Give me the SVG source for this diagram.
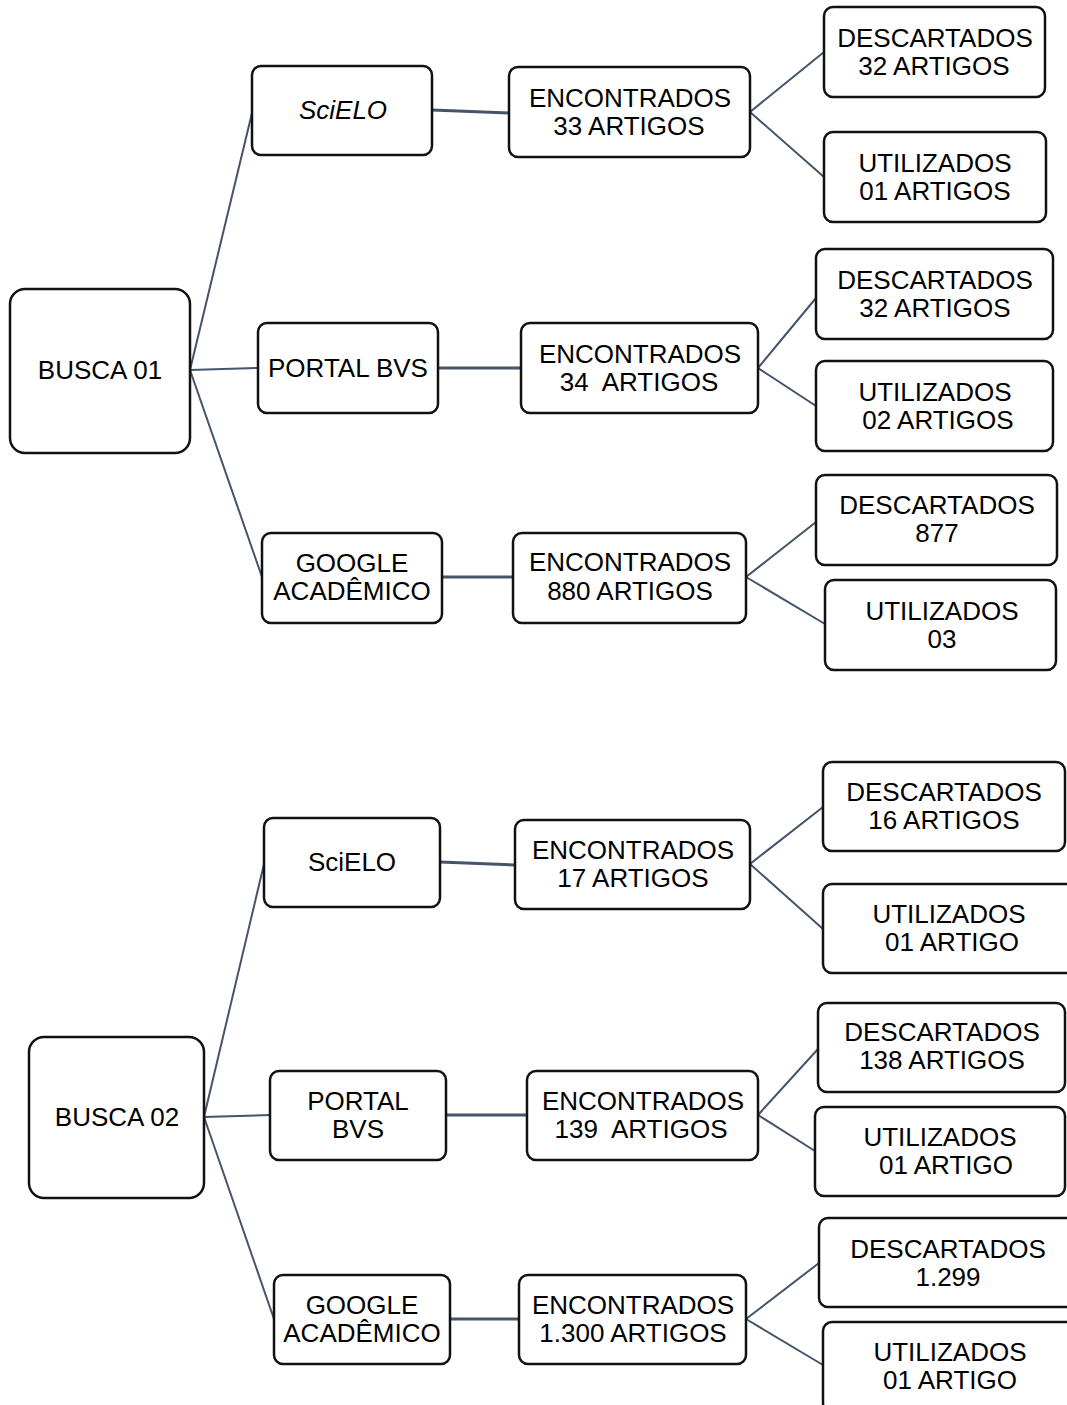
<svg xmlns="http://www.w3.org/2000/svg" width="1067" height="1405" viewBox="0 0 1067 1405">
<style>
.b{fill:#fff;stroke:#111;stroke-width:2.5}
text{font-family:"Liberation Sans",Arial,sans-serif;font-size:26px;fill:#000;text-anchor:middle;white-space:pre}
.c line{stroke:#44546a;stroke-width:2;stroke-linecap:round}
.c line.h{stroke-width:3}
</style>
<rect width="1067" height="1405" fill="#fff"/>
<g class="c" id="connectors">
<line x1="190" y1="370" x2="252" y2="113"/>
<line x1="190" y1="370" x2="258" y2="368"/>
<line x1="190" y1="370" x2="262" y2="577"/>
<line class="h" x1="432" y1="110" x2="509" y2="113"/>
<line class="h" x1="438" y1="368" x2="521" y2="368"/>
<line class="h" x1="442" y1="577" x2="513" y2="577"/>
<line x1="750" y1="112" x2="824" y2="52"/>
<line x1="750" y1="112" x2="824" y2="177"/>
<line x1="758" y1="368" x2="816" y2="298"/>
<line x1="758" y1="368" x2="816" y2="406"/>
<line x1="746" y1="577" x2="816" y2="522"/>
<line x1="746" y1="577" x2="825" y2="624"/>
<line x1="204" y1="1117" x2="264" y2="864"/>
<line x1="204" y1="1117" x2="270" y2="1115"/>
<line x1="204" y1="1117" x2="274" y2="1319"/>
<line class="h" x1="440" y1="862" x2="515" y2="865"/>
<line class="h" x1="446" y1="1115" x2="527" y2="1115"/>
<line class="h" x1="450" y1="1319" x2="519" y2="1319"/>
<line x1="750" y1="864" x2="823" y2="807"/>
<line x1="750" y1="864" x2="823" y2="929"/>
<line x1="758" y1="1115" x2="818" y2="1049"/>
<line x1="758" y1="1115" x2="815" y2="1151"/>
<line x1="746" y1="1319" x2="819" y2="1263"/>
<line x1="746" y1="1319" x2="823" y2="1365"/>
</g>
<g id="busca01"><rect class="b" x="10" y="289" width="180" height="164" rx="15"/><text x="100" y="379">BUSCA 01</text></g>
<g id="scielo1"><rect class="b" x="252" y="66" width="180" height="89" rx="9"/><text x="343" y="119" font-style="italic">SciELO</text></g>
<g id="bvs1"><rect class="b" x="258" y="323" width="180" height="90" rx="9"/><text x="348" y="377">PORTAL BVS</text></g>
<g id="google1"><rect class="b" x="262" y="533" width="180" height="90" rx="9"/><text x="352" y="572">GOOGLE</text><text x="352" y="600">ACADÊMICO</text></g>
<g id="enc33"><rect class="b" x="509" y="67" width="241" height="90" rx="9"/><text x="630" y="107">ENCONTRADOS</text><text x="629" y="135">33 ARTIGOS</text></g>
<g id="enc34"><rect class="b" x="521" y="323" width="237" height="90" rx="9"/><text x="640" y="363">ENCONTRADOS</text><text x="639" y="391">34  ARTIGOS</text></g>
<g id="enc880"><rect class="b" x="513" y="533" width="233" height="90" rx="9"/><text x="630" y="571">ENCONTRADOS</text><text x="630" y="600">880 ARTIGOS</text></g>
<g id="desc32a"><rect class="b" x="824" y="7" width="221" height="90" rx="9"/><text x="935" y="47">DESCARTADOS</text><text x="934" y="75">32 ARTIGOS</text></g>
<g id="util01a"><rect class="b" x="824" y="132" width="222" height="90" rx="9"/><text x="935" y="172">UTILIZADOS</text><text x="935" y="200">01 ARTIGOS</text></g>
<g id="desc32b"><rect class="b" x="816" y="249" width="237" height="90" rx="9"/><text x="935" y="289">DESCARTADOS</text><text x="935" y="317">32 ARTIGOS</text></g>
<g id="util02"><rect class="b" x="816" y="361" width="237" height="90" rx="9"/><text x="935" y="401">UTILIZADOS</text><text x="938" y="429">02 ARTIGOS</text></g>
<g id="desc877"><rect class="b" x="816" y="475" width="241" height="90" rx="9"/><text x="937" y="514">DESCARTADOS</text><text x="937" y="542">877</text></g>
<g id="util03"><rect class="b" x="825" y="580" width="231" height="90" rx="9"/><text x="942" y="620">UTILIZADOS</text><text x="942" y="648">03</text></g>
<g id="busca02"><rect class="b" x="29" y="1037" width="175" height="161" rx="15"/><text x="117" y="1126">BUSCA 02</text></g>
<g id="scielo2"><rect class="b" x="264" y="818" width="176" height="89" rx="9"/><text x="352" y="871">SciELO</text></g>
<g id="bvs2"><rect class="b" x="270" y="1071" width="176" height="89" rx="9"/><text x="358" y="1110">PORTAL</text><text x="358" y="1138">BVS</text></g>
<g id="google2"><rect class="b" x="274" y="1275" width="176" height="89" rx="9"/><text x="362" y="1314">GOOGLE</text><text x="362" y="1342">ACADÊMICO</text></g>
<g id="enc17"><rect class="b" x="515" y="820" width="235" height="89" rx="9"/><text x="633" y="859">ENCONTRADOS</text><text x="633" y="887">17 ARTIGOS</text></g>
<g id="enc139"><rect class="b" x="527" y="1071" width="231" height="89" rx="9"/><text x="643" y="1110">ENCONTRADOS</text><text x="641" y="1138">139  ARTIGOS</text></g>
<g id="enc1300"><rect class="b" x="519" y="1275" width="227" height="89" rx="9"/><text x="633" y="1314">ENCONTRADOS</text><text x="633" y="1342">1.300 ARTIGOS</text></g>
<g id="desc16"><rect class="b" x="823" y="762" width="242" height="89" rx="9"/><text x="944" y="801">DESCARTADOS</text><text x="944" y="829">16 ARTIGOS</text></g>
<g id="util01b"><rect class="b" x="823" y="884" width="254" height="89" rx="9"/><text x="949" y="923">UTILIZADOS</text><text x="952" y="951">01 ARTIGO</text></g>
<g id="desc138"><rect class="b" x="818" y="1003" width="247" height="89" rx="9"/><text x="942" y="1041">DESCARTADOS</text><text x="942" y="1069">138 ARTIGOS</text></g>
<g id="util01c"><rect class="b" x="815" y="1107" width="250" height="89" rx="9"/><text x="940" y="1146">UTILIZADOS</text><text x="946" y="1174">01 ARTIGO</text></g>
<g id="desc1299"><rect class="b" x="819" y="1218" width="262" height="89" rx="9"/><text x="948" y="1258">DESCARTADOS</text><text x="948" y="1286">1.299</text></g>
<g id="util01d"><rect class="b" x="823" y="1322" width="262" height="90" rx="9"/><text x="950" y="1361">UTILIZADOS</text><text x="950" y="1389">01 ARTIGO</text></g>
</svg>
